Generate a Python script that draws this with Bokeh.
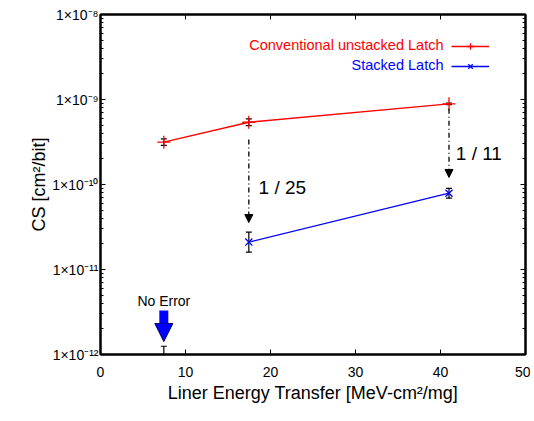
from bokeh.plotting import figure
from bokeh.models import (ColumnDataSource, Whisker, TeeHead, Arrow, NormalHead, Legend,
                          LegendItem, FixedTicker, Range1d, Label, LinearAxis, LogAxis)
from bokeh.core.properties import value
from bokeh.embed import file_html
from bokeh.resources import INLINE

# ---- data ----
let_conv = [7.45, 17.45, 41.0]
cs_conv = [3.15e-10, 5.4e-10, 8.9e-10]
cs_conv_hi = [3.44e-10, 5.91e-10, 9.1e-10]
cs_conv_lo = [2.88e-10, 4.94e-10, 8.7e-10]

let_stack = [17.45, 41.0]
cs_stack = [2.1e-11, 7.9e-11]
cs_stack_hi = [2.75e-11, 9.0e-11]
cs_stack_lo = [1.6e-11, 6.9e-11]

let_noerr = [7.45]
cs_noerr_hi = [1.25e-12]
cs_noerr_lo = [1.0e-12]
noerr_arrow_from = [3.3e-12]
noerr_arrow_to = [1.42e-12]
noerr_label = ["No Error"]
noerr_label_y = [4.3e-12]

ratio_x = [17.45, 41.0]
ratio_from = [3.38e-10, 7.8e-10]
ratio_to = [3.57e-11, 1.21e-10]
ratio_labels = ["1 / 25", "1 / 11"]
ratio_label_x = [18.6, 41.8]
ratio_label_y = [9.2e-11, 2.3e-10]

series_names = ["Conventional unstacked Latch", "Stacked Latch"]

x_ticks = [0, 10, 20, 30, 40, 50]
y_ticks = [1e-12, 1e-11, 1e-10, 1e-9, 1e-8]
y_tick_labels = ["1×10⁻¹²", "1×10⁻¹¹", "1×10⁻¹⁰", "1×10⁻⁹", "1×10⁻⁸"]
y_minor = [m * 10.0 ** e for e in range(-12, -8) for m in range(2, 10)]

FONT = "Liberation Sans"
RED = "#FF0000"
BLUE = "#0000FF"

p = figure(width=530, height=418, y_axis_type="log",
           x_range=Range1d(0, 50), y_range=Range1d(1e-12, 1e-8),
           output_backend="svg", toolbar_location=None,
           min_border_left=100, min_border_right=5, min_border_top=14, min_border_bottom=64)
p.xgrid.visible = False
p.ygrid.visible = False
p.outline_line_color = "black"
p.outline_line_width = 2
p.background_fill_color = "white"
p.border_fill_color = "white"

p.xaxis.ticker = FixedTicker(ticks=x_ticks)
p.yaxis.ticker = FixedTicker(ticks=y_ticks, minor_ticks=y_minor)
p.yaxis.major_label_overrides = dict(zip(y_ticks, y_tick_labels))
p.xaxis.axis_label = "Liner Energy Transfer [MeV-cm²/mg]"
p.yaxis.axis_label = "CS [cm²/bit]"

for ax in (p.xaxis[0], p.yaxis[0]):
    ax.axis_line_width = 2
    ax.axis_line_color = "black"
    ax.major_tick_in = 5
    ax.major_tick_out = 0
    ax.minor_tick_in = 3
    ax.minor_tick_out = 0
    ax.major_tick_line_color = "black"
    ax.minor_tick_line_color = "black"
    ax.major_label_text_font = FONT
    ax.major_label_text_font_size = "14px"
    ax.major_label_text_color = "black"
    ax.axis_label_text_font = FONT
    ax.axis_label_text_font_size = "18px"
    ax.axis_label_text_font_style = "normal"
    ax.axis_label_text_color = "black"
p.xaxis.minor_tick_line_color = None
p.xaxis.major_label_standoff = 12
p.xaxis.axis_label_standoff = 3
p.yaxis.major_label_standoff = 2
p.yaxis.axis_label_standoff = 0

# mirrored tick marks on the top and right edges (no labels)
top_ax = LinearAxis(ticker=FixedTicker(ticks=x_ticks),
                    major_label_overrides={t: "" for t in x_ticks})
right_ax = LogAxis(ticker=FixedTicker(ticks=y_ticks, minor_ticks=y_minor),
                   major_label_overrides={t: "" for t in y_ticks})
for ax in (top_ax, right_ax):
    ax.major_label_standoff = 0
    ax.major_tick_in = 5
    ax.major_tick_out = 0
    ax.minor_tick_in = 3
    ax.minor_tick_out = 0
    ax.axis_line_width = 2
    ax.major_label_text_color = None
top_ax.minor_tick_line_color = None
p.add_layout(top_ax, "above")
p.add_layout(right_ax, "right")

conv = ColumnDataSource(dict(x=let_conv, y=cs_conv, hi=cs_conv_hi, lo=cs_conv_lo))
stack = ColumnDataSource(dict(x=let_stack, y=cs_stack, hi=cs_stack_hi, lo=cs_stack_lo))
noerr = ColumnDataSource(dict(x=let_noerr, hi=cs_noerr_hi, lo=cs_noerr_lo))

r_conv_line = p.line("x", "y", source=conv, line_color=RED, line_width=1.3)
r_conv_pts = p.scatter("x", "y", source=conv, marker="cross", size=13, line_color=RED, line_width=1.3)
r_st_line = p.line("x", "y", source=stack, line_color=BLUE, line_width=1.3)
r_st_pts = p.scatter("x", "y", source=stack, marker="x", size=10, line_color=BLUE, line_width=1.3)

for src in (conv, stack, noerr):
    w = Whisker(base="x", upper="hi", lower="lo", source=src, line_color="black", line_width=1.2,
                upper_head=TeeHead(size=6, line_color="black", line_width=1.2),
                lower_head=TeeHead(size=6, line_color="black", line_width=1.2))
    p.add_layout(w)

# ratio arrows
for xv, y0, y1 in zip(ratio_x, ratio_from, ratio_to):
    p.add_layout(Arrow(x_start=xv, y_start=y0, x_end=xv, y_end=y1,
                       line_color="black", line_width=1.3, line_dash="5 3 1 3",
                       end=NormalHead(size=8, fill_color="black", line_color="black", line_width=1)))
p.text(x=ratio_label_x, y=ratio_label_y, text=ratio_labels, text_font=value(FONT),
       text_font_size="19px", text_baseline="middle", text_align="left", text_color="black")

# no error arrow
p.add_layout(Arrow(x_start=let_noerr[0], y_start=noerr_arrow_from[0], x_end=let_noerr[0],
                   y_end=noerr_arrow_to[0], line_color=BLUE, line_width=9,
                   end=NormalHead(size=18, fill_color=BLUE, line_color="#000060", line_width=1)))
p.text(x=let_noerr, y=noerr_label_y, text=noerr_label, text_font=value(FONT),
       text_font_size="14px", text_baseline="middle", text_align="center", text_color="black")

# legend: text on the left (right-aligned), line sample on the right
def make_legend(label, renderers, color, row_y):
    leg = Legend(items=[LegendItem(label="", renderers=renderers)], location=(351, row_y - 10),
                 glyph_width=38, glyph_height=16, label_height=16, label_width=0,
                 label_standoff=0, padding=0, spacing=0,
                 margin=0, border_line_color=None, background_fill_alpha=0)
    p.add_layout(leg, "center")
    p.add_layout(Label(x=343, y=row_y, x_units="screen", y_units="screen", text=label,
                       text_align="right", text_baseline="middle", text_color=color,
                       text_font=FONT, text_font_size="14.5px"))

make_legend(series_names[0], [r_conv_line, r_conv_pts], RED, 310)
make_legend(series_names[1], [r_st_line, r_st_pts], BLUE, 290)

open("out.html", "w").write(file_html(p, INLINE))
